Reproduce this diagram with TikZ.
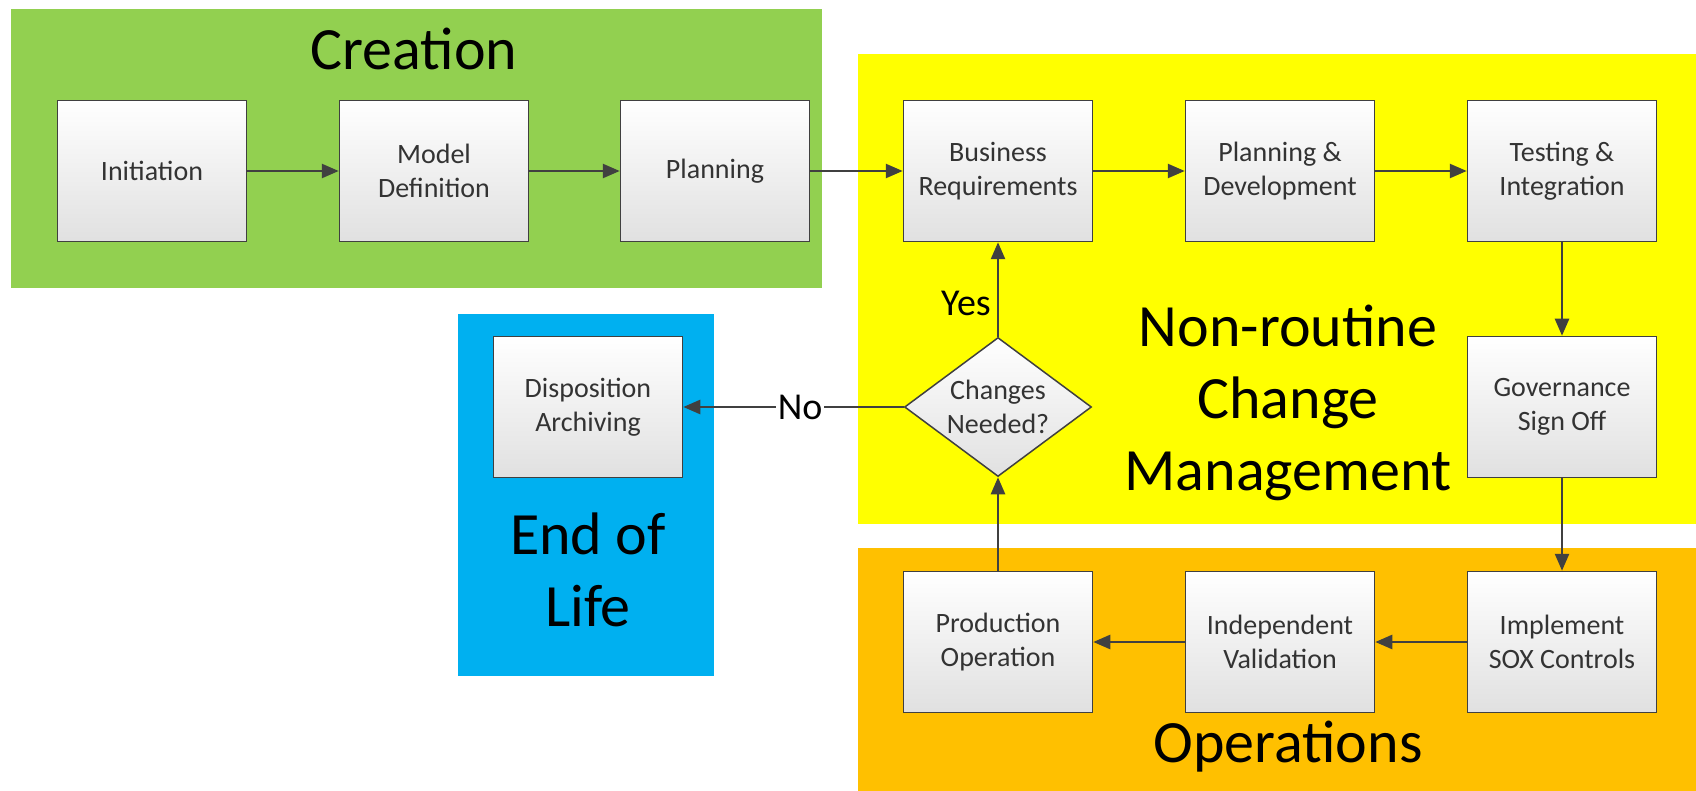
\documentclass[tikz,border=0pt]{standalone}
\usepackage{fontspec}
\setmainfont{Carlito}
\usetikzlibrary{shapes.geometric,arrows.meta}

\definecolor{zoneGreen}{HTML}{92D050}
\definecolor{zoneYellow}{HTML}{FFFF00}
\definecolor{zoneOrange}{HTML}{FFC000}
\definecolor{zoneBlue}{HTML}{00B0F0}
\definecolor{edgeGray}{HTML}{404040}

\begin{document}
\begin{tikzpicture}
[x=1pt,y=-1pt,%
  stepDecorate/.style={shape=rectangle,draw=edgeGray,line width=1.5pt,top color=white,bottom color=black!12,%
    minimum width=189pt,minimum height=141pt,align=center,text=black!80,font=\fontsize{28}{34}\selectfont},%
  titleDecorate/.style={align=center,font=\fontsize{60}{72}\selectfont},%
  labelDecorate/.style={font=\fontsize{38}{44}\selectfont,inner sep=2pt},%
  lineDecorate/.style={-{Triangle[length=17pt,width=14pt]},line width=2.5pt,draw=edgeGray}]
\useasboundingbox (0,0) rectangle (1696,791);
%% zones
\fill[zoneGreen] (11,9) rectangle (822,288);
\fill[zoneYellow] (858,54) rectangle (1696,524);
\fill[zoneOrange] (858,548) rectangle (1696,791);
\fill[zoneBlue] (458,314) rectangle (714,676);
%% zone titles
\node (creation) at (414,49) [titleDecorate] {Creation};
\node (nonroutine) at (1288,403) [titleDecorate] {Non-routine\\Change\\Management};
\node (endoflife) at (588,570) [titleDecorate] {End of\\Life};
\node (operations) at (1288,747) [titleDecorate] {Operations};
%% steps
\foreach \nodename/\x/\y/\nodetext in {init/152/171/{Initiation}, modl/434/171/{Model\\Definition},
  plan/715/171/{Planning}, busr/998/171/{Business\\Requirements}, pdev/1280/171/{Planning \&\\Development},
  test/1562/171/{Testing \&\\Integration}, govn/1562/407/{Governance\\Sign Off}, sox/1562/642/{Implement\\SOX Controls},
  ival/1280/642/{Independent\\Validation}, prod/998/642/{Production\\Operation}, disp/588/407/{Disposition\\Archiving}}
{
  \node (\nodename) at (\x,\y) [stepDecorate] {\nodetext};
}
%% decision
\node (chng) at (998,407) [shape=diamond,draw=edgeGray,line width=1.5pt,top color=white,bottom color=black!12,
  minimum width=187pt,minimum height=139pt,inner sep=0pt,
  label={[align=center,text=black!80,font=\fontsize{28}{34}\selectfont]center:Changes\\Needed?}] {};
%% flow
\path
\foreach \startnode/\endnode in {init/modl, modl/plan, plan/busr, busr/pdev, pdev/test, test/govn,
  govn/sox, sox/ival, ival/prod, prod/chng}
{
  (\startnode) edge[lineDecorate] (\endnode)
};
\path (chng) edge[lineDecorate] node[labelDecorate,pos=0.35,left=4pt] {Yes} (busr);
\path (chng) edge[lineDecorate] node[labelDecorate,pos=0.47,fill=white] {No} (disp);
\end{tikzpicture}
\end{document}
